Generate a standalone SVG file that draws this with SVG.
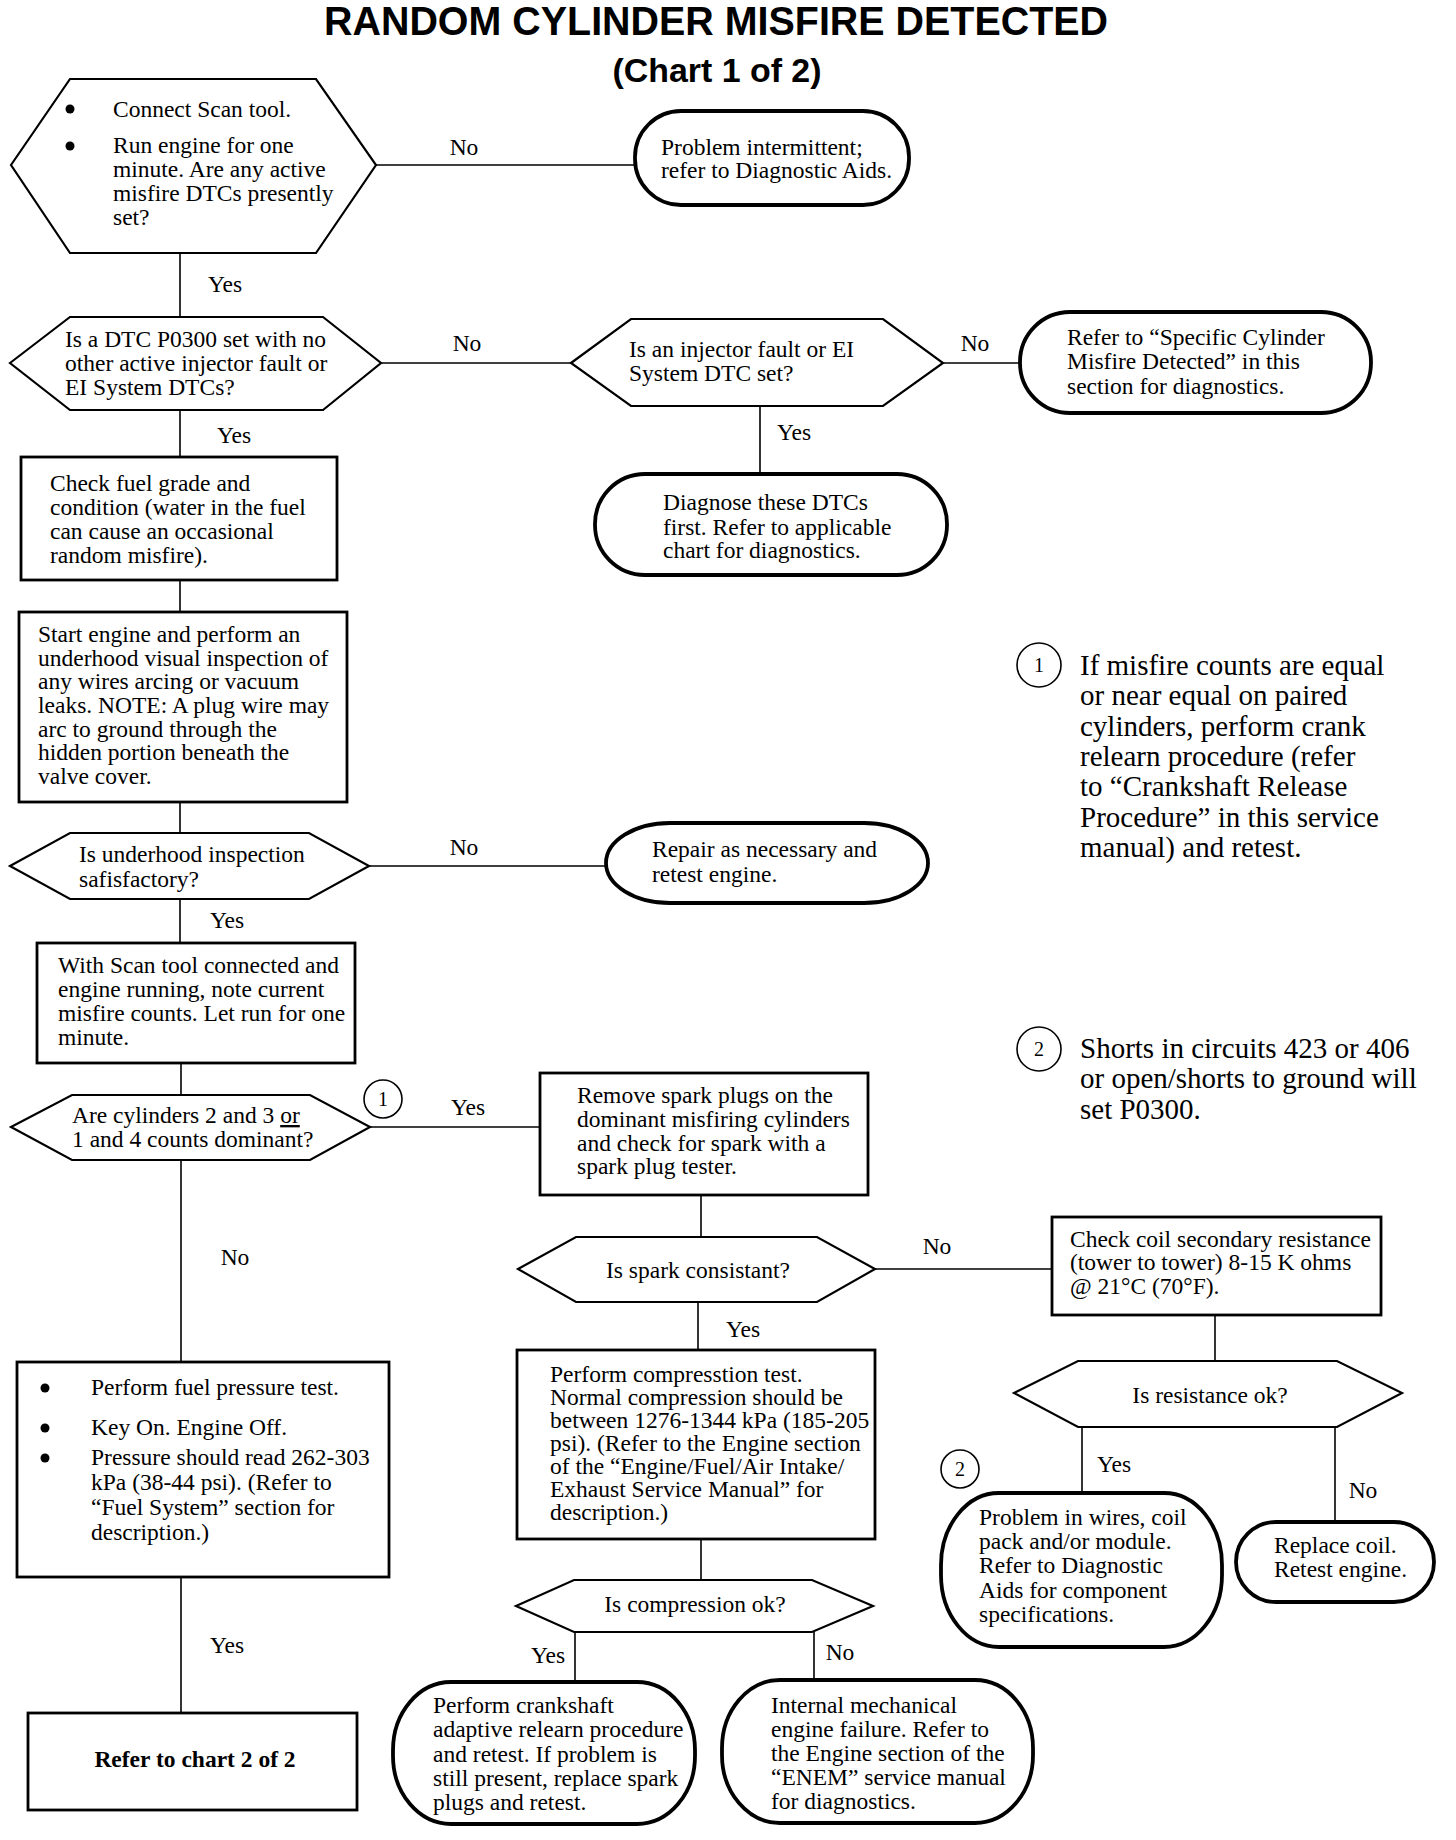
<svg xmlns="http://www.w3.org/2000/svg" width="1456" height="1840" viewBox="0 0 1456 1840">
<style>
  .bg{fill:#fff}
  .hex{fill:#fff;stroke:#000;stroke-width:2.2;stroke-linejoin:miter}
  .box{fill:#fff;stroke:#000;stroke-width:2.8}
  .term{fill:#fff;stroke:#000;stroke-width:3.8}
  .ln{stroke:#000;stroke-width:1.6;fill:none}
  .t{font-family:"Liberation Serif","Times New Roman",serif;font-size:23.5px;fill:#000}
  .c{text-anchor:middle}
  .note{font-family:"Liberation Serif","Times New Roman",serif;font-size:29px;fill:#000}
  .num{font-family:"Liberation Serif","Times New Roman",serif;font-size:20px;fill:#000;text-anchor:middle}
  .circ{fill:#fff;stroke:#000;stroke-width:1.6}
  .title{font-family:"Liberation Sans",Arial,sans-serif;font-weight:bold;fill:#000;text-anchor:middle}
  .bold{font-weight:bold}
</style>
<rect class="bg" x="0" y="0" width="1456" height="1840"/>

<g id="title">
  <text class="title" x="716" y="35" font-size="41" textLength="784" lengthAdjust="spacingAndGlyphs">RANDOM CYLINDER MISFIRE DETECTED</text>
  <text class="title" x="717" y="82" font-size="34" textLength="209" lengthAdjust="spacingAndGlyphs">(Chart 1 of 2)</text>
</g>

<g id="connectors">
  <line class="ln" x1="376" y1="165" x2="635" y2="165"/>
  <line class="ln" x1="180" y1="253" x2="180" y2="317"/>
  <line class="ln" x1="381" y1="363" x2="571" y2="363"/>
  <line class="ln" x1="943" y1="363" x2="1020" y2="363"/>
  <line class="ln" x1="760" y1="406" x2="760" y2="474"/>
  <line class="ln" x1="180" y1="410" x2="180" y2="457"/>
  <line class="ln" x1="180" y1="580" x2="180" y2="612"/>
  <line class="ln" x1="180" y1="802" x2="180" y2="833"/>
  <line class="ln" x1="369" y1="866" x2="606" y2="866"/>
  <line class="ln" x1="180" y1="899" x2="180" y2="943"/>
  <line class="ln" x1="181" y1="1063" x2="181" y2="1095"/>
  <line class="ln" x1="370" y1="1127" x2="540" y2="1127"/>
  <line class="ln" x1="181" y1="1160" x2="181" y2="1362"/>
  <line class="ln" x1="181" y1="1577" x2="181" y2="1713"/>
  <line class="ln" x1="701" y1="1195" x2="701" y2="1237"/>
  <line class="ln" x1="875" y1="1269" x2="1052" y2="1269"/>
  <line class="ln" x1="698" y1="1302" x2="698" y2="1350"/>
  <line class="ln" x1="1215" y1="1315" x2="1215" y2="1361"/>
  <line class="ln" x1="1082" y1="1427" x2="1082" y2="1493"/>
  <line class="ln" x1="1335" y1="1427" x2="1335" y2="1522"/>
  <line class="ln" x1="701" y1="1539" x2="701" y2="1580"/>
  <line class="ln" x1="575" y1="1632" x2="575" y2="1682"/>
  <line class="ln" x1="814" y1="1632" x2="814" y2="1680"/>
  <text class="t c" x="464" y="155">No</text>
  <text class="t c" x="225" y="292">Yes</text>
  <text class="t c" x="467" y="351">No</text>
  <text class="t c" x="975" y="351">No</text>
  <text class="t c" x="794" y="440">Yes</text>
  <text class="t c" x="234" y="443">Yes</text>
  <text class="t c" x="464" y="855">No</text>
  <text class="t c" x="227" y="928">Yes</text>
  <text class="t c" x="468" y="1115">Yes</text>
  <text class="t c" x="235" y="1265">No</text>
  <text class="t c" x="227" y="1653">Yes</text>
  <text class="t c" x="937" y="1254">No</text>
  <text class="t c" x="743" y="1337">Yes</text>
  <text class="t c" x="1114" y="1472">Yes</text>
  <text class="t c" x="1363" y="1498">No</text>
  <text class="t c" x="548" y="1663">Yes</text>
  <text class="t c" x="840" y="1660">No</text>
  <circle class="circ" cx="383" cy="1099" r="19"/>
  <text class="num" x="383" y="1106">1</text>
  <circle class="circ" cx="960" cy="1469" r="19"/>
  <text class="num" x="960" y="1476">2</text>
</g>

<g id="n1">
  <polygon class="hex" points="11,165 70,79 316,79 376,165 316,253 70,253"/>
  <circle cx="70" cy="109" r="4.5"/>
  <circle cx="70" cy="146" r="4.5"/>
  <text class="t" x="113" y="117">Connect Scan tool.</text>
  <text class="t" x="113" y="153">Run engine for one</text>
  <text class="t" x="113" y="177">minute. Are any active</text>
  <text class="t" x="113" y="201">misfire DTCs presently</text>
  <text class="t" x="113" y="225">set?</text>
</g>

<g id="t1">
  <rect class="term" x="635" y="111" width="274" height="94" rx="46" ry="46"/>
  <text class="t" x="661" y="155">Problem intermittent;</text>
  <text class="t" x="661" y="178">refer to Diagnostic Aids.</text>
</g>

<g id="n2">
  <polygon class="hex" points="10,363 70,317 323,317 381,363 323,410 70,410"/>
  <text class="t" x="65" y="347">Is a DTC P0300 set with no</text>
  <text class="t" x="65" y="371">other active injector fault or</text>
  <text class="t" x="65" y="395">EI System DTCs?</text>
</g>

<g id="n2b">
  <polygon class="hex" points="571,363 631,319 883,319 943,363 883,406 631,406"/>
  <text class="t" x="629" y="357">Is an injector fault or EI</text>
  <text class="t" x="629" y="381">System DTC set?</text>
</g>

<g id="t2">
  <rect class="term" x="1020" y="312" width="351" height="101" rx="50" ry="50"/>
  <text class="t" x="1067" y="345">Refer to  “Specific Cylinder</text>
  <text class="t" x="1067" y="369">Misfire Detected” in this</text>
  <text class="t" x="1067" y="394">section for diagnostics.</text>
</g>

<g id="t3">
  <rect class="term" x="595" y="474" width="352" height="101" rx="50" ry="50"/>
  <text class="t" x="663" y="510">Diagnose these DTCs</text>
  <text class="t" x="663" y="535">first. Refer to applicable</text>
  <text class="t" x="663" y="558">chart for diagnostics.</text>
</g>

<g id="b1">
  <rect class="box" x="21" y="457" width="316" height="123"/>
  <text class="t" x="50" y="491">Check fuel grade and</text>
  <text class="t" x="50" y="515">condition (water in the fuel</text>
  <text class="t" x="50" y="539">can cause an occasional</text>
  <text class="t" x="50" y="563">random misfire).</text>
</g>

<g id="b2">
  <rect class="box" x="19" y="612" width="328" height="190"/>
  <text class="t" x="38" y="642">Start engine and perform an</text>
  <text class="t" x="38" y="666">underhood visual inspection of</text>
  <text class="t" x="38" y="689">any wires arcing or vacuum</text>
  <text class="t" x="38" y="713">leaks. NOTE: A plug wire may</text>
  <text class="t" x="38" y="737">arc to ground through the</text>
  <text class="t" x="38" y="760">hidden portion beneath the</text>
  <text class="t" x="38" y="784">valve cover.</text>
</g>

<g id="n3">
  <polygon class="hex" points="10,866 70,833 309,833 369,866 309,899 70,899"/>
  <text class="t" x="79" y="862">Is underhood inspection</text>
  <text class="t" x="79" y="887">safisfactory?</text>
</g>

<g id="t4">
  <rect class="term" x="606" y="823" width="322" height="80" rx="64" ry="40"/>
  <text class="t" x="652" y="857">Repair as necessary and</text>
  <text class="t" x="652" y="882">retest engine.</text>
</g>

<g id="b3">
  <rect class="box" x="37" y="943" width="318" height="120"/>
  <text class="t" x="58" y="973">With Scan tool connected and</text>
  <text class="t" x="58" y="997">engine running, note current</text>
  <text class="t" x="58" y="1021">misfire counts. Let run for one</text>
  <text class="t" x="58" y="1045">minute.</text>
</g>

<g id="n4">
  <polygon class="hex" points="11,1127 72,1095 310,1095 370,1127 310,1160 72,1160"/>
  <text class="t" x="72" y="1123">Are cylinders 2 and 3 <tspan text-decoration="underline">or</tspan></text>
  <text class="t" x="72" y="1147">1 and 4 counts dominant?</text>
</g>

<g id="b4">
  <rect class="box" x="540" y="1073" width="328" height="122"/>
  <text class="t" x="577" y="1103">Remove spark plugs on the</text>
  <text class="t" x="577" y="1127">dominant misfiring cylinders</text>
  <text class="t" x="577" y="1151">and check for spark with a</text>
  <text class="t" x="577" y="1174">spark plug tester.</text>
</g>

<g id="n5">
  <polygon class="hex" points="518,1269 576,1237 817,1237 875,1269 817,1302 576,1302"/>
  <text class="t c" x="698" y="1278">Is spark consistant?</text>
</g>

<g id="b5">
  <rect class="box" x="1052" y="1217" width="329" height="98"/>
  <text class="t" x="1070" y="1247">Check coil secondary resistance</text>
  <text class="t" x="1070" y="1270">(tower to tower) 8-15 K ohms</text>
  <text class="t" x="1070" y="1294">@ 21°C (70°F).</text>
</g>

<g id="n6">
  <polygon class="hex" points="1014,1393 1078,1361 1337,1361 1402,1393 1337,1427 1078,1427"/>
  <text class="t c" x="1210" y="1403">Is resistance ok?</text>
</g>

<g id="t5">
  <rect class="term" x="941" y="1493" width="281" height="154" rx="58" ry="72"/>
  <text class="t" x="979" y="1525">Problem in wires, coil</text>
  <text class="t" x="979" y="1549">pack and/or module.</text>
  <text class="t" x="979" y="1573">Refer to Diagnostic</text>
  <text class="t" x="979" y="1598">Aids for component</text>
  <text class="t" x="979" y="1622">specifications.</text>
</g>

<g id="t6">
  <rect class="term" x="1236" y="1522" width="198" height="80" rx="40" ry="40"/>
  <text class="t" x="1274" y="1553">Replace coil.</text>
  <text class="t" x="1274" y="1577">Retest engine.</text>
</g>

<g id="b6">
  <rect class="box" x="17" y="1362" width="372" height="215"/>
  <circle cx="45" cy="1388" r="4.5"/>
  <circle cx="45" cy="1428" r="4.5"/>
  <circle cx="45" cy="1458" r="4.5"/>
  <text class="t" x="91" y="1395">Perform fuel pressure test.</text>
  <text class="t" x="91" y="1435">Key On. Engine Off.</text>
  <text class="t" x="91" y="1465">Pressure should read 262-303</text>
  <text class="t" x="91" y="1490">kPa (38-44 psi). (Refer to</text>
  <text class="t" x="91" y="1515">“Fuel System” section for</text>
  <text class="t" x="91" y="1540">description.)</text>
</g>

<g id="b7">
  <rect class="box" x="517" y="1350" width="358" height="189"/>
  <text class="t" x="550" y="1382">Perform compresstion test.</text>
  <text class="t" x="550" y="1405">Normal compression should be</text>
  <text class="t" x="550" y="1428">between 1276-1344 kPa (185-205</text>
  <text class="t" x="550" y="1451">psi). (Refer to the Engine section</text>
  <text class="t" x="550" y="1474">of the “Engine/Fuel/Air Intake/</text>
  <text class="t" x="550" y="1497">Exhaust Service Manual” for</text>
  <text class="t" x="550" y="1520">description.)</text>
</g>

<g id="n7">
  <polygon class="hex" points="516,1606 574,1580 812,1580 873,1606 812,1632 574,1632"/>
  <text class="t c" x="695" y="1612">Is compression ok?</text>
</g>

<g id="t7">
  <rect class="term" x="393" y="1682" width="302" height="142" rx="58" ry="68"/>
  <text class="t" x="433" y="1713">Perform crankshaft</text>
  <text class="t" x="433" y="1737">adaptive relearn procedure</text>
  <text class="t" x="433" y="1762">and retest. If problem is</text>
  <text class="t" x="433" y="1786">still present, replace spark</text>
  <text class="t" x="433" y="1810">plugs and retest.</text>
</g>

<g id="t8">
  <rect class="term" x="722" y="1680" width="311" height="143" rx="58" ry="68"/>
  <text class="t" x="771" y="1713">Internal mechanical</text>
  <text class="t" x="771" y="1737">engine failure. Refer to</text>
  <text class="t" x="771" y="1761">the Engine section of the</text>
  <text class="t" x="771" y="1785">“ENEM” service manual</text>
  <text class="t" x="771" y="1809">for diagnostics.</text>
</g>

<g id="b8">
  <rect class="box" x="28" y="1713" width="329" height="97" stroke-width="3.2"/>
  <text class="t c bold" x="195" y="1767">Refer to chart 2 of 2</text>
</g>

<g id="note1">
  <circle class="circ" cx="1039" cy="665" r="22"/>
  <text class="num" x="1039" y="672">1</text>
  <text class="note" x="1080" y="675">If misfire counts are equal</text>
  <text class="note" x="1080" y="705">or near equal on paired</text>
  <text class="note" x="1080" y="736">cylinders, perform crank</text>
  <text class="note" x="1080" y="766">relearn procedure (refer</text>
  <text class="note" x="1080" y="796">to “Crankshaft Release</text>
  <text class="note" x="1080" y="827">Procedure” in this service</text>
  <text class="note" x="1080" y="857">manual) and retest.</text>
</g>

<g id="note2">
  <circle class="circ" cx="1039" cy="1049" r="22"/>
  <text class="num" x="1039" y="1056">2</text>
  <text class="note" x="1080" y="1058">Shorts in circuits 423 or 406</text>
  <text class="note" x="1080" y="1088">or open/shorts to ground will</text>
  <text class="note" x="1080" y="1119">set P0300.</text>
</g>
</svg>
